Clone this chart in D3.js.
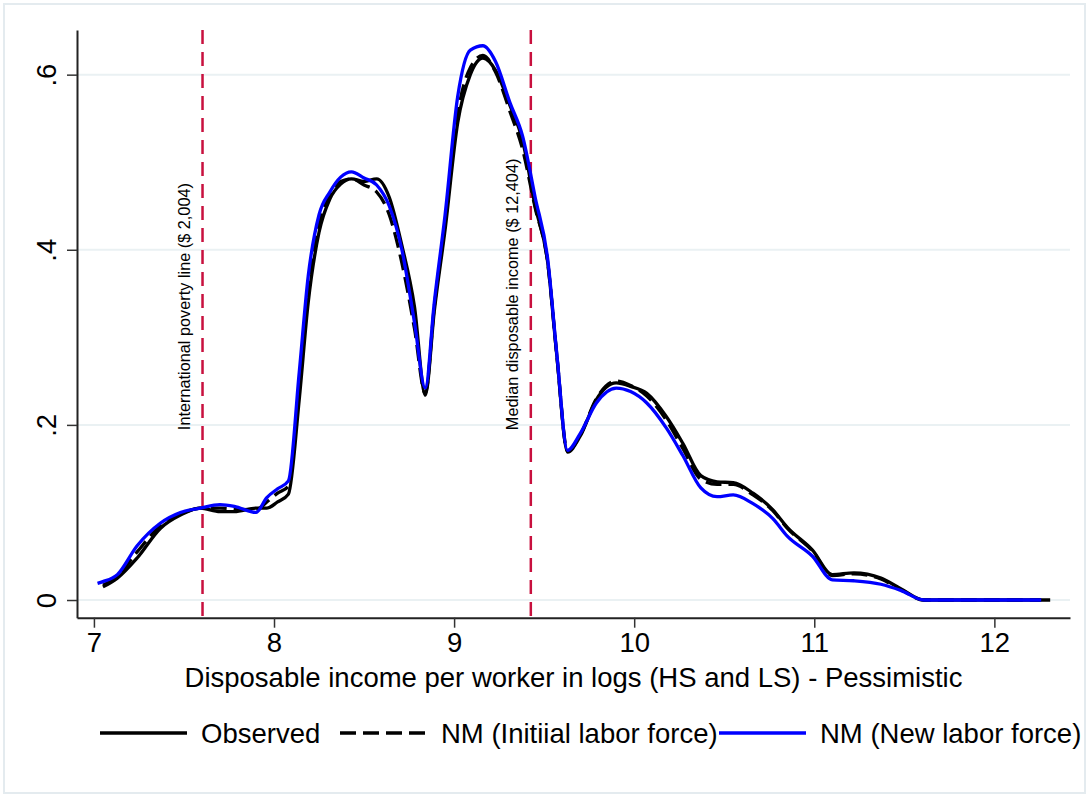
<!DOCTYPE html>
<html>
<head>
<meta charset="utf-8">
<script src="https://cdn.jsdelivr.net/npm/d3@7"></script>
<style>
body{margin:0;background:#fff;}
text{font-family:"Liberation Sans",Arial,sans-serif;fill:#000;}
</style>
</head>
<body>
<svg id="chart" width="1089" height="797"></svg>
<script>
// x grid (log disposable income)
var xs = [7.02,7.05,7.13,7.24,7.37,7.48,7.59,7.7,7.78,7.9,7.96,8.02,8.08,8.14,8.19,8.25,8.31,8.37,8.43,8.5,8.57,8.64,8.71,8.78,8.84,8.89,8.95,9.02,9.09,9.16,9.23,9.31,9.38,9.45,9.52,9.57,9.63,9.7,9.79,9.9,9.98,10.07,10.18,10.27,10.37,10.46,10.55,10.66,10.77,10.85,10.99,11.1,11.22,11.37,11.48,11.61,12.0,12.26,12.31];
// densities, null where the series is not drawn
var observed = [null,0.015,0.025,0.048,0.082,0.097,0.105,0.101,0.101,0.105,0.105,0.112,0.121,0.229,0.34,0.42,0.458,0.475,0.481,0.478,0.481,0.46,0.405,0.335,0.234,0.33,0.423,0.545,0.6,0.619,0.605,0.565,0.525,0.45,0.385,0.28,0.169,0.187,0.229,0.248,0.244,0.236,0.209,0.179,0.142,0.135,0.134,0.122,0.103,0.083,0.057,0.029,0.031,0.025,0.013,0,0,0,0];
var nmInitial = [null,0.017,0.027,0.055,0.085,0.098,0.105,0.105,0.104,0.103,0.112,0.122,0.13,0.245,0.355,0.43,0.462,0.478,0.481,0.474,0.466,0.44,0.385,0.31,0.236,0.335,0.43,0.555,0.608,0.622,0.603,0.558,0.515,0.448,0.385,0.28,0.17,0.188,0.23,0.25,0.245,0.233,0.205,0.173,0.138,0.132,0.132,0.12,0.102,0.082,0.056,0.028,0.03,0.024,0.012,0,0,0,null];
var nmNew = [0.019,0.021,0.029,0.062,0.088,0.1,0.105,0.109,0.107,0.1,0.117,0.127,0.136,0.26,0.37,0.44,0.466,0.483,0.489,0.482,0.474,0.45,0.4,0.317,0.242,0.34,0.44,0.575,0.628,0.633,0.615,0.568,0.53,0.46,0.389,0.282,0.171,0.19,0.225,0.242,0.238,0.225,0.196,0.165,0.128,0.118,0.12,0.11,0.093,0.073,0.05,0.023,0.022,0.018,0.011,0,0,0,null];

var xTicks = [7,8,9,10,11,12];
var yTicks = [0,0.2,0.4,0.6];
var yTickLabels = ["0",".2",".4",".6"];
var refLines = [7.603,9.426];
var refLabels = ["International poverty line ($ 2,004)","Median disposable income ($ 12,404)"];
var legendLabels = ["Observed","NM (Initiial labor force)","NM (New labor force)"];
var xTitle = "Disposable income per worker in logs (HS and LS) - Pessimistic";

var svg = d3.select("#chart");
var plotL = 77, plotR = 1070, plotT = 30, plotB = 617.7;
var fs = 27.5;

// outer frame
svg.append("rect").attr("x",4).attr("y",4).attr("width",1081).attr("height",789)
	.attr("fill","none").attr("stroke","#e4ebef").attr("stroke-width",2);

var x = d3.scaleLinear().domain([6.906,12.42]).range([plotL,plotR]);
var y = d3.scaleLinear().domain([-0.0202,0.651]).range([plotB,plotT]);

// grid
svg.append("g").selectAll("line").data(yTicks).enter().append("line")
	.attr("x1",plotL).attr("x2",plotR)
	.attr("y1",function(d){return y(d);}).attr("y2",function(d){return y(d);})
	.attr("stroke","#eaf1f3").attr("stroke-width",2);

// axes
var gx = svg.append("g").attr("transform","translate(0,"+plotB+")")
	.call(d3.axisBottom(x).tickValues(xTicks).tickFormat(d3.format("d")).tickSize(10).tickPadding(5).tickSizeOuter(0));
gx.select(".domain").attr("stroke","#222").attr("stroke-width",2);
gx.selectAll(".tick line").attr("stroke","#333").attr("stroke-width",1.5);
gx.selectAll(".tick text").attr("font-size",fs).attr("font-family","Liberation Sans, Arial, sans-serif").attr("fill","#000");

var gy = svg.append("g").attr("transform","translate("+plotL+",0)")
	.call(d3.axisLeft(y).tickValues(yTicks).tickFormat(function(d,i){return yTickLabels[i];}).tickSize(10).tickSizeOuter(0));
gy.select(".domain").attr("stroke","#222").attr("stroke-width",2);
gy.selectAll(".tick line").attr("stroke","#333").attr("stroke-width",1.5);
gy.selectAll(".tick text")
	.attr("font-size",fs).attr("font-family","Liberation Sans, Arial, sans-serif").attr("fill","#000")
	.attr("x",0).attr("dy",null).attr("y",0)
	.attr("text-anchor","middle")
	.attr("transform","translate(-21,0) rotate(-90)");

// reference lines
svg.append("g").selectAll("line").data(refLines).enter().append("line")
	.attr("x1",function(d){return x(d);}).attr("x2",function(d){return x(d);})
	.attr("y1",plotT).attr("y2",plotB)
	.attr("stroke","#c8103e").attr("stroke-width",2.5).attr("stroke-dasharray","14,8");

svg.append("g").selectAll("text").data(refLabels).enter().append("text")
	.attr("transform",function(d,i){return "translate("+(x(refLines[i])-13)+","+y(0.194)+") rotate(-90)";})
	.attr("font-size",16.3).attr("fill","#222").text(function(d){return d;});

// curves
function lineFor(vals){
	return d3.line()
		.defined(function(d,i){return vals[i]!==null;})
		.x(function(d){return x(d);})
		.y(function(d,i){return y(vals[i]);})
		.curve(d3.curveMonotoneX)(xs);
}
svg.append("path").attr("d",lineFor(observed)).attr("fill","none").attr("stroke","#000").attr("stroke-width",3.3).attr("stroke-linejoin","round");
svg.append("path").attr("d",lineFor(nmInitial)).attr("fill","none").attr("stroke","#000").attr("stroke-width",3.3).attr("stroke-dasharray","16,7");
svg.append("path").attr("d",lineFor(nmNew)).attr("fill","none").attr("stroke","#0000ff").attr("stroke-width",3.3).attr("stroke-linejoin","round");

// x title
svg.append("text").attr("x",(plotL+plotR)/2).attr("y",687).attr("text-anchor","middle")
	.attr("font-size",fs).text(xTitle);

// legend
var legX = [100,340,719];
var legStroke = ["#000","#000","#0000ff"];
var legDash = [null,"16,7",null];
var leg = svg.append("g").selectAll("g").data(legendLabels).enter().append("g")
	.attr("transform",function(d,i){return "translate("+legX[i]+",733)";});
leg.append("line").attr("x1",0).attr("x2",87).attr("y1",0).attr("y2",0)
	.attr("stroke",function(d,i){return legStroke[i];}).attr("stroke-width",3.5)
	.attr("stroke-dasharray",function(d,i){return legDash[i];});
leg.append("text").attr("x",101).attr("y",10).attr("font-size",fs).text(function(d){return d;});
</script>
</body>
</html>
